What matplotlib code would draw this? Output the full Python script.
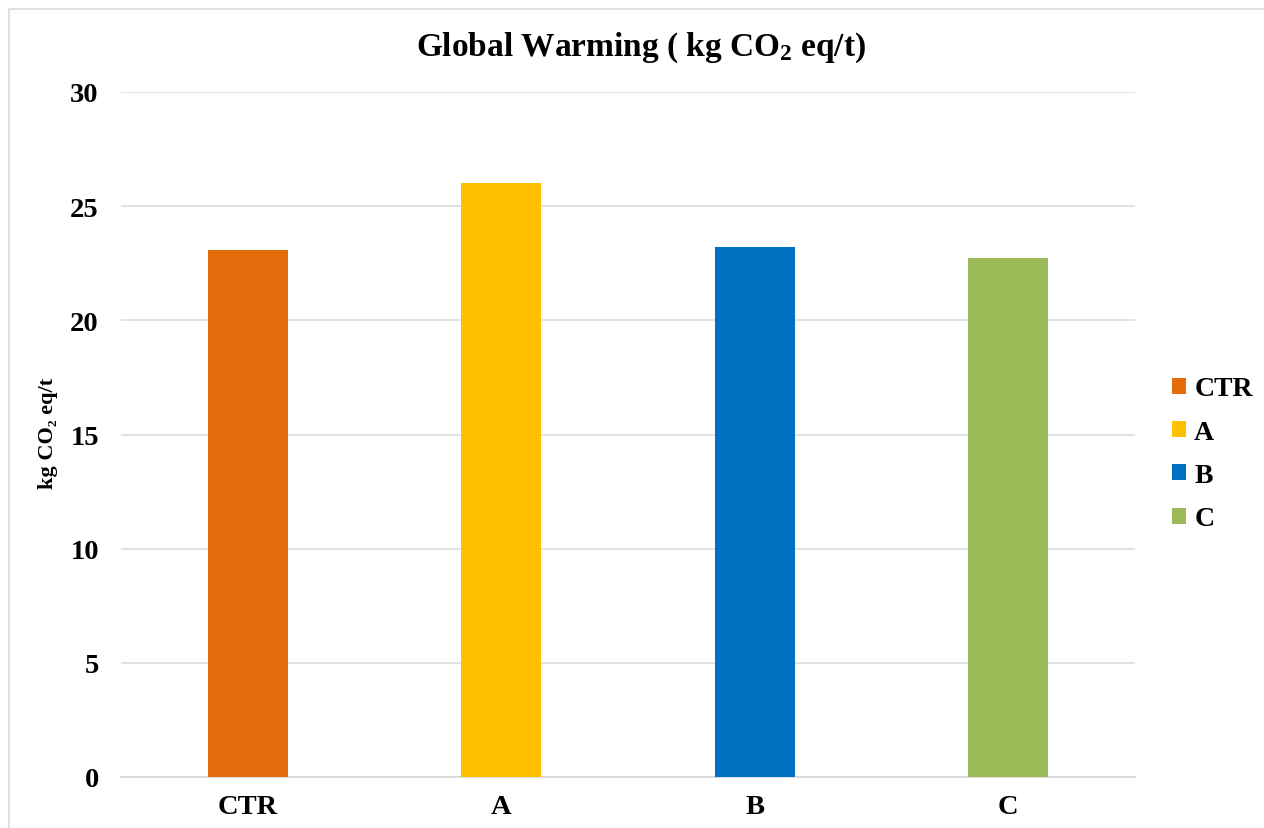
import matplotlib.pyplot as plt
from matplotlib.patches import Patch, Rectangle

plt.rcParams['font.family'] = ['Liberation Serif', 'DejaVu Serif']
plt.rcParams['font.weight'] = 'bold'
plt.rcParams['mathtext.fontset'] = 'custom'
plt.rcParams['mathtext.rm'] = 'Liberation Serif:bold'
plt.rcParams['mathtext.bf'] = 'Liberation Serif:bold'
plt.rcParams['mathtext.default'] = 'rm'

# 各处理的全球变暖潜势
categories = ['CTR', 'A', 'B', 'C']
values = [23.09, 26.01, 23.21, 22.73]
colors = ['#E46C0A', '#FFC000', '#0070C0', '#9BBB59']
yticks = [0, 5, 10, 15, 20, 25, 30]

fig = plt.figure(figsize=(12.64, 8.29), dpi=100)
ax = fig.add_axes([121 / 1264, 1 - 778 / 829, 1014 / 1264, 685 / 829])

bars = ax.bar(categories, values, width=0.315, color=colors, zorder=3)

ax.set_ylim(0, 30)
ax.set_xlim(-0.5, len(categories) - 0.5)
ax.set_yticks(yticks)
ax.yaxis.grid(True, color='#d9d9d9', linewidth=1.1, zorder=0)
for s in ['top', 'right', 'left']:
    ax.spines[s].set_visible(False)
ax.spines['bottom'].set_color('#d9d9d9')
ax.spines['bottom'].set_linewidth(1.3)
ax.tick_params(axis='y', length=0, pad=16, labelsize=20.5)
ax.tick_params(axis='x', length=0, pad=12, labelsize=20.5)

# 标题和纵轴标签
fig.text(641 / 1264, 1 - 56 / 829, r'Global Warming ( kg CO$_2$ eq/t)',
         ha='center', va='baseline', fontsize=24, fontweight='bold')
fig.text(48 / 1264, 1 - 433 / 829, 'kg CO₂ eq/t', rotation=90,
         ha='center', va='center', fontsize=16, fontweight='bold')

# 右侧图例
handles = [Patch(facecolor=c, edgecolor='none') for c in colors]
fig.legend(handles, categories, loc='center left',
           bbox_to_anchor=(1172 / 1264, 1 - 455 / 829),
           frameon=False, fontsize=20, handlelength=0.5, handleheight=0.5,
           handletextpad=0.3, labelspacing=0.66, borderpad=0, borderaxespad=0)

# 外边框
fig.patches.append(Rectangle((9 / 1264, -0.1), 1.2, 1.1 - 10 / 829,
                             transform=fig.transFigure, fill=False,
                             edgecolor='#d9d9d9', linewidth=1.2))

fig.savefig('out.png', dpi=100)
